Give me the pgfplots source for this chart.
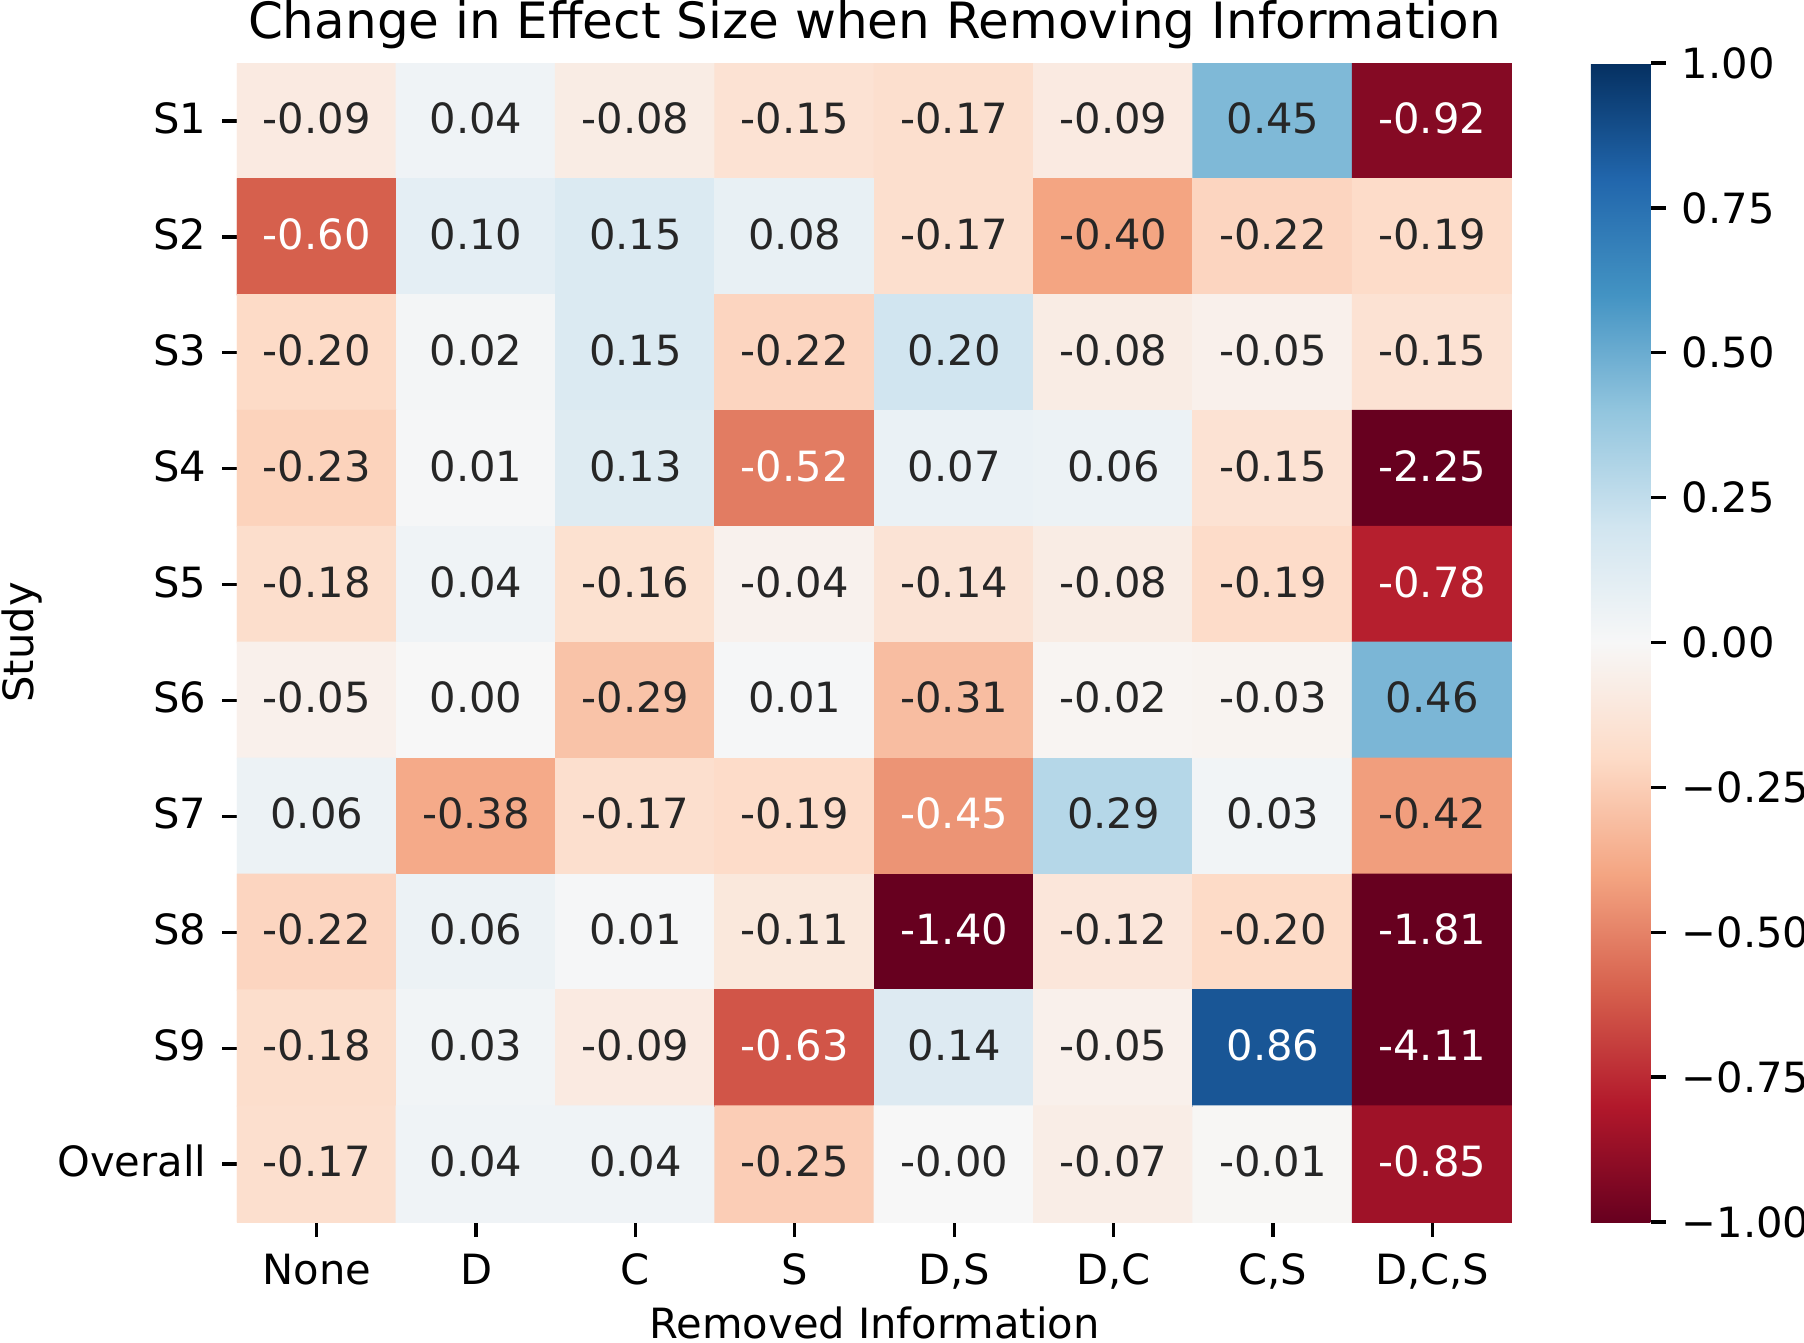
\documentclass[border=0pt]{standalone}
\usepackage{pgfplots}
\pgfplotsset{compat=1.18}
\usepackage{pgfplotstable}
\usepackage{fontspec}
\setmainfont{DejaVu Sans}

\definecolor{annot}{RGB}{38,38,38}

% x: removed information (column), y: study (row), v: change in effect size,
% w: 1 where the label is set in white on a dark cell
\pgfplotstableread{
x y v w
0 0 -0.09 0
1 0 0.04 0
2 0 -0.08 0
3 0 -0.15 0
4 0 -0.17 0
5 0 -0.09 0
6 0 0.45 0
7 0 -0.92 1
0 1 -0.60 1
1 1 0.10 0
2 1 0.15 0
3 1 0.08 0
4 1 -0.17 0
5 1 -0.40 0
6 1 -0.22 0
7 1 -0.19 0
0 2 -0.20 0
1 2 0.02 0
2 2 0.15 0
3 2 -0.22 0
4 2 0.20 0
5 2 -0.08 0
6 2 -0.05 0
7 2 -0.15 0
0 3 -0.23 0
1 3 0.01 0
2 3 0.13 0
3 3 -0.52 1
4 3 0.07 0
5 3 0.06 0
6 3 -0.15 0
7 3 -2.25 1
0 4 -0.18 0
1 4 0.04 0
2 4 -0.16 0
3 4 -0.04 0
4 4 -0.14 0
5 4 -0.08 0
6 4 -0.19 0
7 4 -0.78 1
0 5 -0.05 0
1 5 0.00 0
2 5 -0.29 0
3 5 0.01 0
4 5 -0.31 0
5 5 -0.02 0
6 5 -0.03 0
7 5 0.46 0
0 6 0.06 0
1 6 -0.38 0
2 6 -0.17 0
3 6 -0.19 0
4 6 -0.45 1
5 6 0.29 0
6 6 0.03 0
7 6 -0.42 0
0 7 -0.22 0
1 7 0.06 0
2 7 0.01 0
3 7 -0.11 0
4 7 -1.40 1
5 7 -0.12 0
6 7 -0.20 0
7 7 -1.81 1
0 8 -0.18 0
1 8 0.03 0
2 8 -0.09 0
3 8 -0.63 1
4 8 0.14 0
5 8 -0.05 0
6 8 0.86 1
7 8 -4.11 1
0 9 -0.17 0
1 9 0.04 0
2 9 0.04 0
3 9 -0.25 0
4 9 -0.00 0
5 9 -0.07 0
6 9 -0.01 0
7 9 -0.85 1
}\heat

\begin{document}
\begin{tikzpicture}
\begin{axis}[
  at={(0pt,0pt)}, anchor=south west,
  scale only axis, width=306pt, height=278.16pt,
  xmin=-0.5, xmax=7.5, ymin=-0.5, ymax=9.5, y dir=reverse,
  axis line style={draw=none},
  xtick={0,...,7}, ytick={0,...,9},
  xticklabels={None,D,C,S,{D,S},{D,C},{C,S},{D,C,S}},
  yticklabels={S1,S2,S3,S4,S5,S6,S7,S8,S9,Overall},
  tick align=outside, xtick pos=left, ytick pos=left,
  major tick length=3.5pt,
  every tick/.style={black, line width=0.8pt},
  xticklabel style={anchor=base, inner sep=0pt, yshift=-11.4pt},
  yticklabel style={anchor=east, inner sep=0pt, xshift=-3.7pt, yshift=0.65pt},
  colormap={rdbu}{rgb255=(103,0,31) rgb255=(178,24,43) rgb255=(214,96,77)
    rgb255=(244,165,130) rgb255=(253,219,199) rgb255=(247,247,247)
    rgb255=(209,229,240) rgb255=(146,197,222) rgb255=(67,147,195)
    rgb255=(33,102,172) rgb255=(5,48,97)},
  point meta min=-1, point meta max=1,
  colorbar,
  colorbar style={
    at={(parent axis.south east)}, anchor=south west, xshift=10.42pt,
    scale only axis, width=14.4pt, height=278.16pt,
    axis line style={draw=none},
    ytick={-1,-0.75,-0.5,-0.25,0,0.25,0.5,0.75,1},
    yticklabels={−1.00,−0.75,−0.50,−0.25,0.00,0.25,0.50,0.75,1.00},
    tick align=outside, ytick pos=right, yticklabel pos=right,
    major tick length=3.5pt,
    every tick/.style={black, line width=0.8pt},
    yticklabel style={anchor=west, inner sep=0pt, xshift=3.7pt},
  },
]
\addplot[matrix plot*, mesh/cols=8, mesh/ordering=x varies, point meta=explicit]
  table[x=x, y=y, meta=v]{\heat};
\addplot[draw=none, mark=none, point meta=explicit symbolic,
  visualization depends on={\thisrow{w} \as \wflag},
  nodes near coords={\ifdim\wflag pt>0.5pt \color{white}\else\color{annot}\fi\pgfplotspointmeta},
  every node near coord/.append style={anchor=center, inner sep=0pt, yshift=0.65pt}]
  table[x=x, y=y, meta=v]{\heat};
\end{axis}
\node[anchor=base, font=\fontsize{12}{14}\selectfont] at (153pt,283.92pt)
  {Change in Effect Size when Removing Information};
\node[anchor=base] at (153pt,-27.84pt) {Removed Information};
\node[anchor=base, rotate=90] at (-48.88pt,139.08pt) {Study};
\pgfresetboundingbox
\useasboundingbox (-56.88pt,-28.8pt) rectangle (376.08pt,293.28pt);
\end{tikzpicture}
\end{document}
